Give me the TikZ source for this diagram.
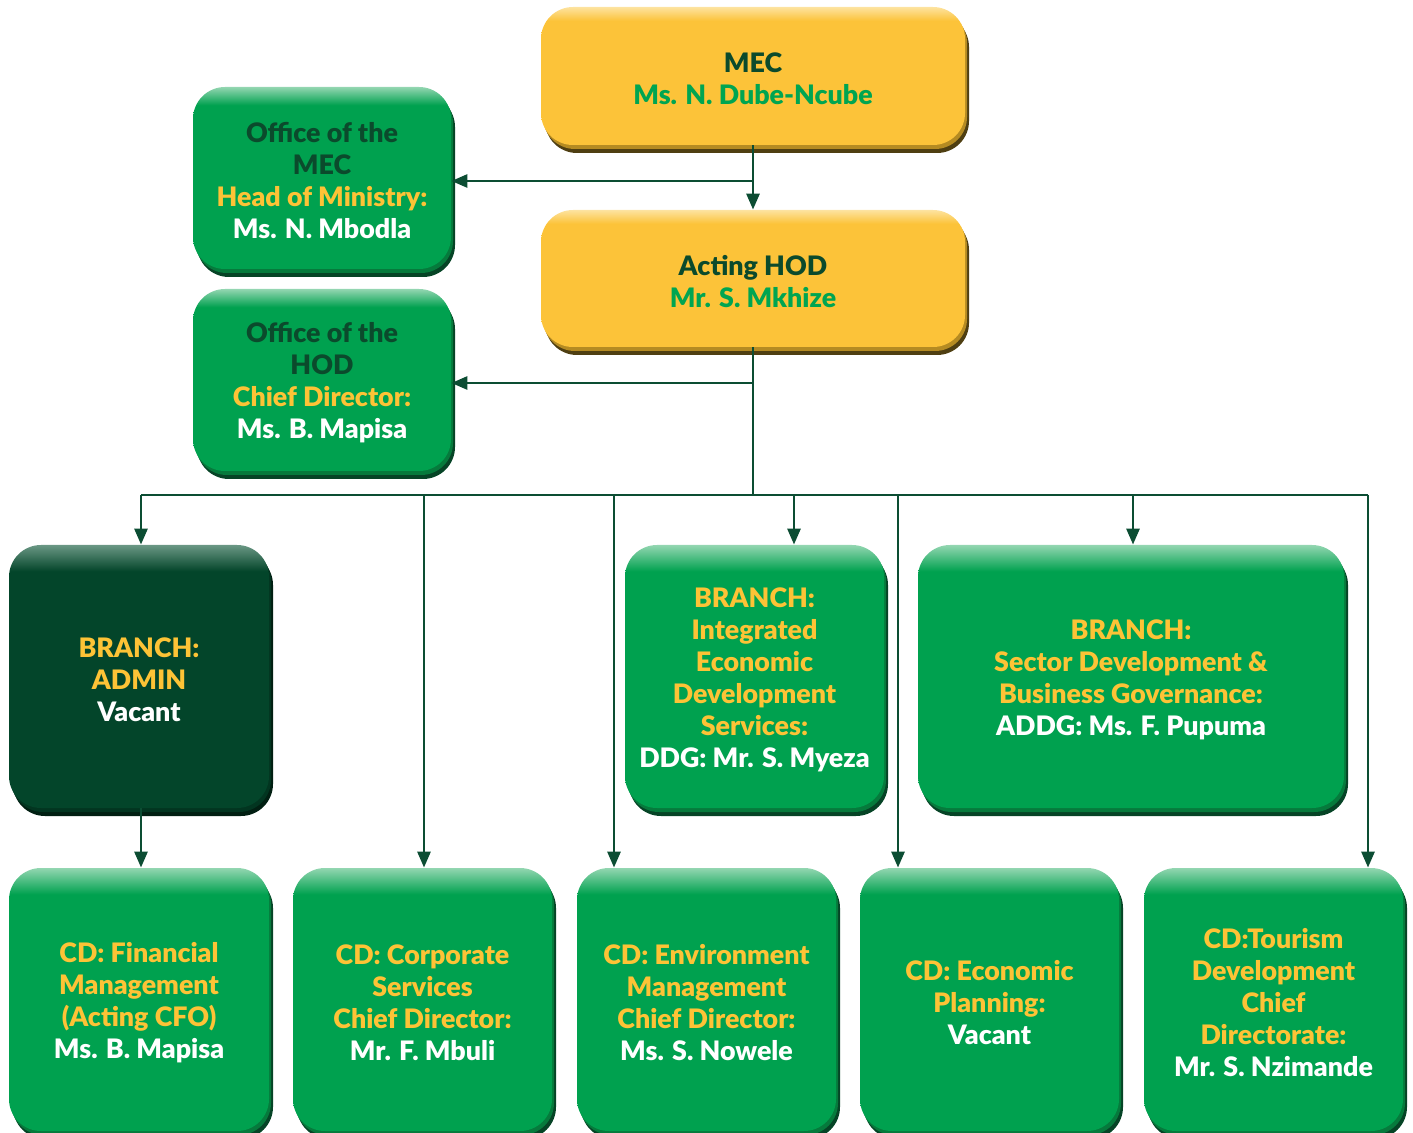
\documentclass[tikz,border=0pt]{standalone}
\usepackage{fontspec}
\setmainfont{Lato}[BoldFont={Lato Black}]
\usetikzlibrary{arrows.meta,shadows}
\definecolor{gr}{HTML}{00A14F}
\definecolor{grhi}{HTML}{93D6B1}
\definecolor{grmid}{HTML}{067A3C}
\definecolor{grsh}{HTML}{064426}
\definecolor{yl}{HTML}{FCC339}
\definecolor{ylhi}{HTML}{FDE3A0}
\definecolor{ylmid}{HTML}{B58B22}
\definecolor{ylsh}{HTML}{4F3F12}
\definecolor{dk}{HTML}{03452A}
\definecolor{dkhi}{HTML}{6A9784}
\definecolor{dkmid}{HTML}{023520}
\definecolor{dksh}{HTML}{011F12}
\definecolor{ln}{HTML}{0C4D33}
\definecolor{txtdk}{HTML}{0B4A2C}
\definecolor{txtyl}{HTML}{FDC336}
\definecolor{txtgr}{HTML}{00A551}
\pgfdeclareverticalshading{grshade}{100bp}{color(0bp)=(gr); color(70bp)=(gr); color(75bp)=(grhi); color(100bp)=(grhi)}
\pgfdeclareverticalshading{ylshade}{100bp}{color(0bp)=(yl); color(70bp)=(yl); color(75bp)=(ylhi); color(100bp)=(ylhi)}
\pgfdeclareverticalshading{dkshade}{100bp}{color(0bp)=(dk); color(70bp)=(dk); color(75bp)=(dkhi); color(100bp)=(dkhi)}
\newcommand\tdk[1]{\textcolor{txtdk}{#1}}
\newcommand\tyl[1]{\textcolor{txtyl}{#1}}
\newcommand\tgr[1]{\textcolor{txtgr}{#1}}
\newcommand\twh[1]{\textcolor{white}{#1}}
\newcommand\orgbox[7]{%
  \node[#1, minimum width={(#5-#3-4)*0.5pt}, minimum height={(#6-#4-7)*0.5pt}]
    (#2) at ({(#3+#5-4)/2},{(#4+#6-7)/2}) {};
  \node[boxtext] (#2-text) at ([yshift=-1.5pt]#2.center) {#7};}
\begin{document}
\begin{tikzpicture}[x=0.5pt,y=-0.5pt,
  boxbase/.style={rounded corners=16pt, inner sep=0pt},
  boxtext/.style={inner sep=0pt, align=center,
    font=\bfseries\fontsize{13.4}{16}\selectfont},
  greenbox/.style={boxbase, shading=grshade,
    general shadow={fill=grsh, shadow xshift=2pt, shadow yshift=-4pt},
    general shadow={fill=grmid, shadow xshift=1pt, shadow yshift=-2pt}},
  yellowbox/.style={boxbase, shading=ylshade,
    general shadow={fill=ylsh, shadow xshift=2pt, shadow yshift=-4pt},
    general shadow={fill=ylmid, shadow xshift=1pt, shadow yshift=-2pt}},
  darkbox/.style={boxbase, shading=dkshade,
    general shadow={fill=dksh, shadow xshift=2pt, shadow yshift=-4pt},
    general shadow={fill=dkmid, shadow xshift=1pt, shadow yshift=-2pt}},
  wire/.style={draw=ln, line width=1.4pt},
  conn/.style={wire, -{Triangle[width=6.5pt,length=8pt]}}]
\clip (0,0) rectangle (1413,1133);
% top
\orgbox{yellowbox}{mec}{541}{7}{969}{152}{\tdk{MEC}\\\tgr{Ms. N. Dube-Ncube}}
\orgbox{yellowbox}{hod}{541}{210}{969}{354}{\tdk{Acting HOD}\\\tgr{Mr. S. Mkhize}}
\orgbox{greenbox}{omec}{193}{87}{455}{276}{\tdk{Office of the}\\\tdk{MEC}\\\tyl{Head of Ministry:}\\\twh{Ms. N. Mbodla}}
\orgbox{greenbox}{ohod}{193}{289}{455}{478}{\tdk{Office of the}\\\tdk{HOD}\\\tyl{Chief Director:}\\\twh{Ms. B. Mapisa}}
% branches
\orgbox{darkbox}{admin}{9}{545}{273}{815}{\tyl{BRANCH:}\\\tyl{ADMIN}\\\twh{Vacant}}
\orgbox{greenbox}{ieds}{625}{545}{888}{815}{\tyl{BRANCH:}\\\tyl{Integrated}\\\tyl{Economic}\\\tyl{Development}\\\tyl{Services:}\\\twh{DDG: Mr. S. Myeza}}
\orgbox{greenbox}{sdbg}{918}{545}{1348}{815}{\tyl{BRANCH:}\\\tyl{Sector Development \&}\\\tyl{Business Governance:}\\\twh{ADDG: Ms. F. Pupuma}}
% chief directorates
\orgbox{greenbox}{cdfin}{9}{868}{273}{1138}{\tyl{CD: Financial}\\\tyl{Management}\\\tyl{(Acting CFO)}\\\twh{Ms. B. Mapisa}}
\orgbox{greenbox}{cdcorp}{293}{868}{556}{1138}{\tyl{CD: Corporate}\\\tyl{Services}\\\tyl{Chief Director:}\\\twh{Mr. F. Mbuli}}
\orgbox{greenbox}{cdenv}{577}{868}{840}{1138}{\tyl{CD: Environment}\\\tyl{Management}\\\tyl{Chief Director:}\\\twh{Ms. S. Nowele}}
\orgbox{greenbox}{cdecon}{860}{868}{1123}{1138}{\tyl{CD: Economic}\\\tyl{Planning:}\\\twh{Vacant}}
\orgbox{greenbox}{cdtour}{1144}{868}{1407}{1138}{\tyl{CD:Tourism}\\\tyl{Development}\\\tyl{Chief}\\\tyl{Directorate:}\\\twh{Mr. S. Nzimande}}
% connector coordinates
\coordinate (ya) at (0,181);
\coordinate (yb) at (0,383);
\coordinate (b1) at (141,495);
\coordinate (b2) at (424,495);
\coordinate (b3) at (614,495);
\coordinate (b4) at (794,495);
\coordinate (b5) at (898,495);
\coordinate (b6) at (1133,495);
\coordinate (b7) at (1368,495);
\coordinate (trunk) at (756,495);
% connectors
\draw[conn] (mec.south) -- (hod.north);
\draw[conn] (mec.south |- ya) -- (omec.east |- ya);
\draw[wire] (hod.south) -- (hod.south |- trunk);
\draw[conn] (hod.south |- yb) -- (ohod.east |- yb);
\draw[wire] (b1) -- (b7);
\draw[conn] (b1) -- (b1 |- admin.north);
\draw[conn] (b2) -- (b2 |- cdcorp.north);
\draw[conn] (b3) -- (b3 |- cdenv.north);
\draw[conn] (b4) -- (b4 |- ieds.north);
\draw[conn] (b5) -- (b5 |- cdecon.north);
\draw[conn] (b6) -- (b6 |- sdbg.north);
\draw[conn] (b7) -- (b7 |- cdtour.north);
\draw[conn] (admin.south -| b1) -- (b1 |- cdfin.north);
\end{tikzpicture}
\end{document}
